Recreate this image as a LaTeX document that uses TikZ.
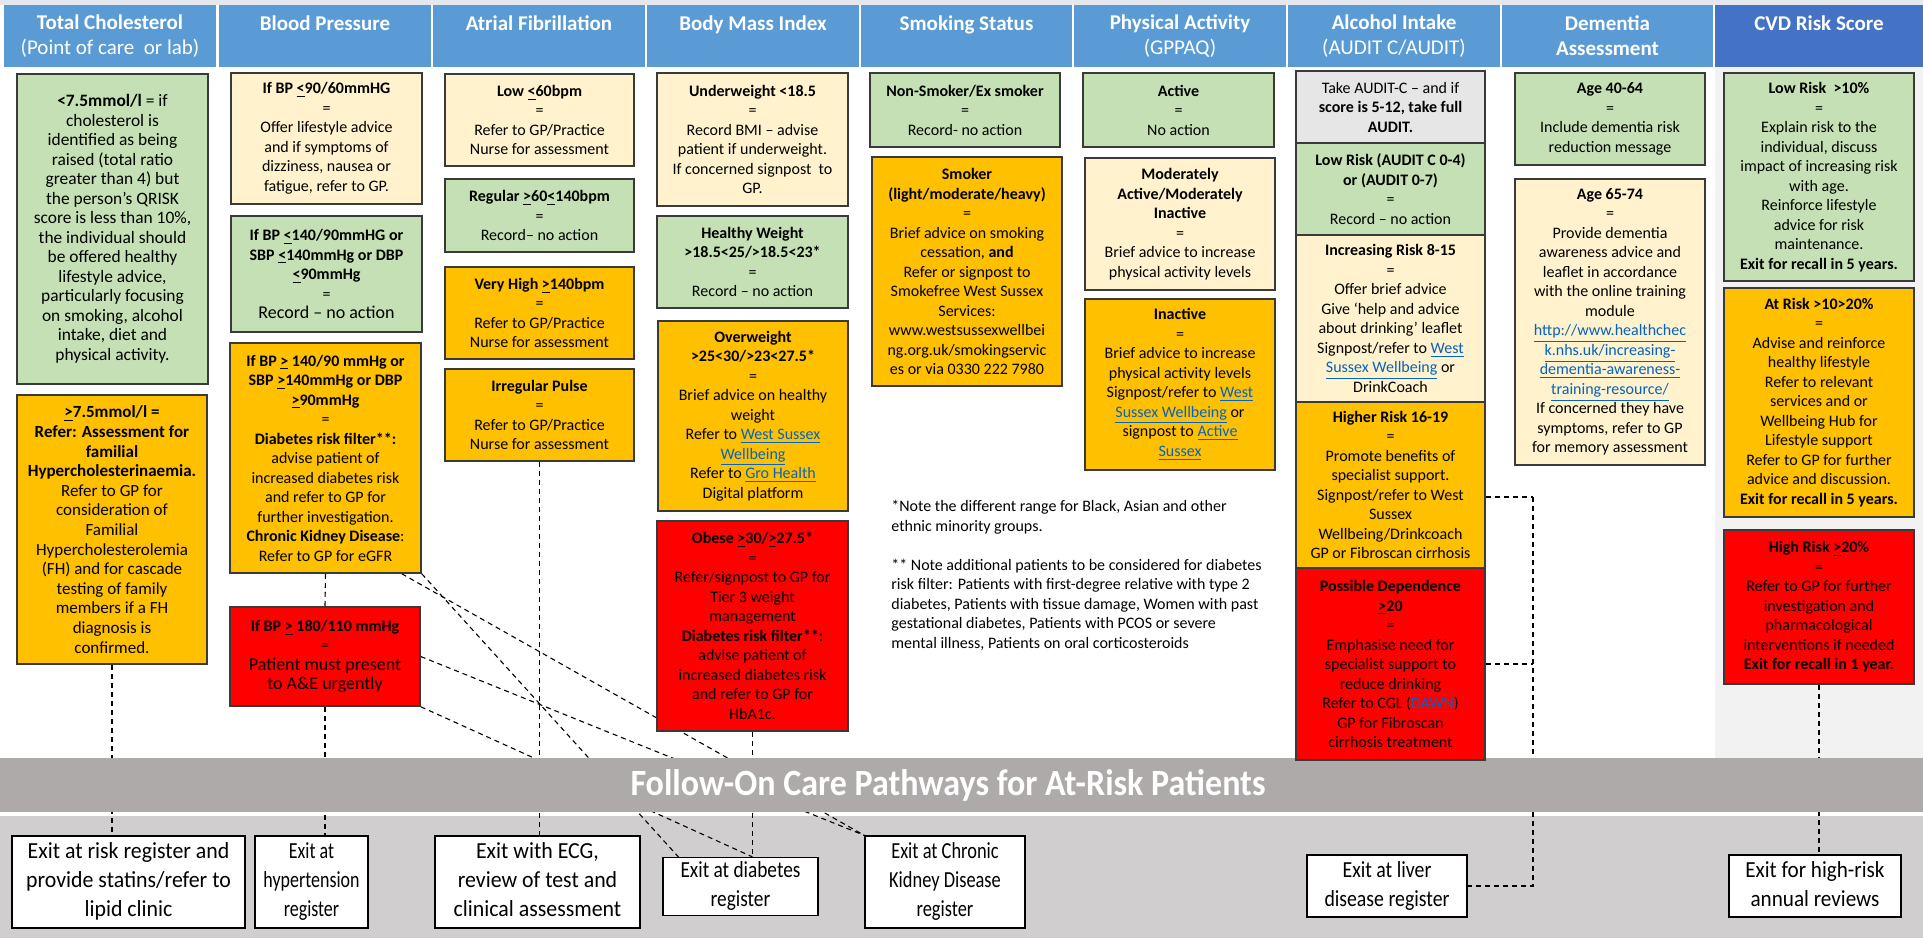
\documentclass[tikz,border=0pt]{standalone}
\usepackage{fontspec}
\setmainfont{Carlito}
\usepackage{graphicx}
\definecolor{hdrblue}{HTML}{5B9BD5}
\definecolor{cvdblue}{HTML}{4472C4}
\definecolor{okgreen}{HTML}{C5E0B4}
\definecolor{cream}{HTML}{FFF2CC}
\definecolor{amber}{HTML}{FFC000}
\definecolor{alarm}{HTML}{FF0000}
\definecolor{auditgrey}{HTML}{E7E6E6}
\definecolor{bandgrey}{HTML}{AEAAAA}
\definecolor{footgrey}{HTML}{D0CECE}
\definecolor{colgrey}{HTML}{F2F2F2}
\definecolor{topstrip}{HTML}{E3E8EF}
\definecolor{linkblue}{HTML}{0563C1}
\definecolor{boxline}{HTML}{3A3A3A}
\newcommand{\lnk}[1]{\textcolor{linkblue}{\underline{#1}}}
\newcommand{\lequ}{\underline{<}}
\newcommand{\gequ}{\underline{>}}
\newcommand{\squeeze}[2]{\scalebox{#1}[1]{\begin{tabular}{@{}c@{}}#2\end{tabular}}}
% box from corner (x1,y1) to corner (x2,y2), in pixels of the page
\newcommand{\cell}[7]{\node[#6,minimum width={(#4-#2)*0.5pt},minimum height={(#5-#3)*0.5pt}] (#1) at ({(#2+#4)/2},{(#3+#5)/2}) {#7};}
\pgfdeclarelayer{bg}
\pgfdeclarelayer{wires}
\pgfdeclarelayer{band}
\pgfsetlayers{bg,wires,band,main}
\tikzset{
  hdr/.style={fill=hdrblue,inner sep=0pt,text=white,align=center,font=\fontsize{10.5}{12.5}\selectfont},
  box/.style={draw=boxline,line width=0.75pt,inner sep=0pt,align=center,font=\fontsize{8}{9.75}\selectfont},
  okbox/.style={box,fill=okgreen},
  creambox/.style={box,fill=cream},
  amberbox/.style={box,fill=amber},
  redbox/.style={box,fill=alarm},
  auditbox/.style={box,fill=auditgrey},
  exitbox/.style={draw=black,line width=0.6pt,fill=white,inner sep=0pt,align=center,font=\fontsize{11.5}{14.5}\selectfont},
  wire/.style={black,line width=0.55pt,dash pattern=on 2.5pt off 2pt}
}
\begin{document}
\begin{tikzpicture}[x=0.5pt,y=-0.5pt]
\useasboundingbox (0,0) rectangle (1923,938);
\begin{pgfonlayer}{bg}
\fill[white] (0,0) rectangle (1923,938);
\fill[topstrip] (0,0) rectangle (1923,5);
\fill[colgrey] (1715,67) rectangle (1923,758);
\fill[footgrey] (0,816) rectangle (1923,938);
\end{pgfonlayer}
% column headers
\cell{hTC}{4}{5}{216}{67}{hdr}{\textbf{Total Cholesterol}\\(Point of care\ \ or lab)}
\cell{hBP}{219}{5}{431}{67}{hdr}{\textbf{Blood Pressure}\\\mbox{}}
\cell{hAF}{433}{5}{645}{67}{hdr}{\textbf{Atrial Fibrillation}\\\mbox{}}
\cell{hBMI}{647}{5}{859}{67}{hdr}{\textbf{Body Mass Index}\\\mbox{}}
\cell{hSM}{861}{5}{1072}{67}{hdr}{\textbf{Smoking Status}\\\mbox{}}
\cell{hPA}{1074}{5}{1286}{67}{hdr}{\textbf{Physical Activity}\\(GPPAQ)}
\cell{hAL}{1288}{5}{1500}{67}{hdr}{\textbf{Alcohol Intake}\\(AUDIT C/AUDIT)}
\cell{hDM}{1502}{5}{1713}{67}{hdr}{\textbf{Dementia}\\\textbf{Assessment}}
\cell{hCV}{1715}{5}{1923}{67}{hdr,fill=cvdblue}{\textbf{CVD Risk Score}\\\mbox{}}
% total cholesterol
\cell{tcLow}{17}{74}{208}{384}{okbox,font=\fontsize{8.7}{9.75}\selectfont}{\textbf{<7.5mmol/l} = if\\cholesterol is\\identified as being\\raised (total ratio\\greater than 4) but\\the person's QRISK\\score is less than 10\%,\\the individual should\\be offered healthy\\lifestyle advice,\\particularly focusing\\on smoking, alcohol\\intake, diet and\\physical activity.}
\cell{tcHigh}{17}{395}{207}{664}{amberbox,font=\fontsize{8.5}{9.8}\selectfont}{\textbf{\gequ7.5mmol/l =}\\\textbf{Refer: Assessment for}\\\textbf{familial}\\\textbf{Hypercholesterinaemia.}\\Refer to GP for\\consideration of\\Familial\\Hypercholesterolemia\\(FH) and for cascade\\testing of family\\members if a FH\\diagnosis is\\confirmed.}
% blood pressure
\cell{bpLow}{231}{73}{422}{204}{creambox}{\textbf{If BP \lequ90/60mmHG}\\=\\Offer lifestyle advice\\and if symptoms of\\dizziness, nausea or\\fatigue, refer to GP.}
\cell{bpOk}{231}{216}{422}{332}{okbox}{\textbf{If BP \lequ140/90mmHG or}\\\textbf{SBP \lequ140mmHg or DBP}\\\textbf{\lequ90mmHg}\\=\\{\fontsize{9}{9.75}\selectfont Record -- no action}}
\cell{bpHigh}{230}{343}{421}{573}{amberbox}{\textbf{If BP \gequ\ 140/90 mmHg or}\\\textbf{SBP \gequ140mmHg or DBP}\\\textbf{\gequ90mmHg}\\=\\\textbf{Diabetes risk filter**:}\\advise patient of\\increased diabetes risk\\and refer to GP for\\further investigation.\\\textbf{Chronic Kidney Disease}:\\Refer to GP for eGFR}
\cell{bpCrit}{230}{607}{420}{706}{redbox}{\textbf{If BP \gequ\ 180/110 mmHg}\\=\\{\fontsize{9}{10.5}\selectfont Patient must present}\\{\fontsize{9}{10.5}\selectfont to A\&E urgently}}
% atrial fibrillation
\cell{afLow}{445}{74}{634}{166}{creambox}{\textbf{Low \lequ60bpm}\\=\\Refer to GP/Practice\\Nurse for assessment}
\cell{afReg}{445}{179}{634}{252}{okbox}{\textbf{Regular \gequ60\lequ140bpm}\\=\\Record-- no action}
\cell{afVHigh}{445}{267}{634}{359}{amberbox}{\textbf{Very High \gequ140bpm}\\=\\Refer to GP/Practice\\Nurse for assessment}
\cell{afIrr}{445}{369}{634}{461}{amberbox}{\textbf{Irregular Pulse}\\=\\Refer to GP/Practice\\Nurse for assessment}
% body mass index
\cell{bmiUnder}{657}{73}{848}{206}{creambox}{\textbf{Underweight <18.5}\\=\\Record BMI -- advise\\patient if underweight.\\If concerned signpost\ \ to\\GP.}
\cell{bmiOk}{657}{216}{848}{308}{okbox}{\textbf{Healthy Weight}\\\textbf{>18.5<25/>18.5<23*}\\=\\Record -- no action}
\cell{bmiOver}{658}{321}{848}{511}{amberbox}{\textbf{Overweight}\\\textbf{>25<30/>23<27.5*}\\=\\Brief advice on healthy\\weight\\Refer to \lnk{West Sussex}\\\lnk{Wellbeing}\\Refer to \lnk{Gro Health}\\Digital platform}
\cell{bmiObese}{657}{521}{848}{731}{redbox}{\textbf{Obese \gequ30/\gequ27.5*}\\=\\Refer/signpost to GP for\\Tier 3 weight\\management\\\textbf{Diabetes risk filter**:}\\advise patient of\\increased diabetes risk\\and refer to GP for\\HbA1c.}
% smoking
\cell{smNon}{870}{73}{1060}{147}{okbox}{\textbf{Non-Smoker/Ex smoker}\\=\\Record- no action}
\cell{smYes}{872}{157}{1062}{386}{amberbox}{\textbf{Smoker}\\\textbf{(light/moderate/heavy)}\\=\\Brief advice on smoking\\cessation, \textbf{and}\\Refer or signpost to\\Smokefree West Sussex\\Services:\\www.westsussexwellbei\\ng.org.uk/smokingservic\\es or via 0330 222 7980}
% physical activity
\cell{paAct}{1083}{73}{1274}{147}{okbox}{\textbf{Active}\\=\\No action}
\cell{paMod}{1085}{158}{1275}{290}{creambox}{\textbf{Moderately}\\\textbf{Active/Moderately}\\\textbf{Inactive}\\=\\Brief advice to increase\\physical activity levels}
\cell{paIn}{1085}{299}{1275}{470}{amberbox}{\textbf{Inactive}\\=\\Brief advice to increase\\physical activity levels\\Signpost/refer to \lnk{West}\\\lnk{Sussex Wellbeing} or\\signpost to \lnk{Active}\\\lnk{Sussex}}
% alcohol
\cell{alAudit}{1296}{71}{1485}{143}{auditbox}{Take AUDIT-C -- and if\\\textbf{score is 5-12, take full}\\\textbf{AUDIT.}}
\cell{alLow}{1296}{143}{1485}{235}{okbox}{\textbf{Low Risk (AUDIT C 0-4)}\\\textbf{or (AUDIT 0-7)}\\=\\Record -- no action}
\cell{alInc}{1296}{235}{1485}{402}{creambox}{\textbf{Increasing Risk 8-15}\\=\\Offer brief advice\\Give ‘help and advice\\about drinking’ leaflet\\Signpost/refer to \lnk{West}\\\lnk{Sussex Wellbeing} or\\DrinkCoach}
\cell{alHigh}{1296}{402}{1485}{568}{amberbox}{\textbf{Higher Risk 16-19}\\=\\Promote benefits of\\specialist support.\\Signpost/refer to West\\Sussex\\Wellbeing/Drinkcoach\\GP or Fibroscan cirrhosis}
\cell{alDep}{1296}{568}{1485}{760}{redbox}{\textbf{Possible Dependence}\\\textbf{\gequ20}\\=\\Emphasise need for\\specialist support to\\reduce drinking\\Refer to CGL (\lnk{DAWN})\\GP for Fibroscan\\cirrhosis treatment}
% dementia
\cell{dmMid}{1515}{73}{1705}{165}{okbox}{\textbf{Age 40-64}\\=\\Include dementia risk\\reduction message}
\cell{dmOld}{1515}{179}{1705}{465}{creambox}{\textbf{Age 65-74}\\=\\Provide dementia\\awareness advice and\\leaflet in accordance\\with the online training\\module\\\lnk{http://www.healthchec}\\\lnk{k.nhs.uk/increasing-}\\\lnk{dementia-awareness-}\\\lnk{training-resource/}\\If concerned they have\\symptoms, refer to GP\\for memory assessment}
% cvd risk score
\cell{cvLow}{1724}{73}{1914}{281}{okbox}{\textbf{Low Risk\ \ >10\%}\\=\\Explain risk to the\\individual, discuss\\impact of increasing risk\\with age.\\Reinforce lifestyle\\advice for risk\\maintenance.\\\textbf{Exit for recall in 5 years.}}
\cell{cvAt}{1724}{288}{1914}{517}{amberbox}{\textbf{At Risk >10>20\%}\\=\\Advise and reinforce\\healthy lifestyle\\Refer to relevant\\services and or\\Wellbeing Hub for\\Lifestyle support\\Refer to GP for further\\advice and discussion.\\\textbf{Exit for recall in 5 years.}}
\cell{cvHigh}{1724}{530}{1914}{684}{redbox}{\textbf{High Risk \gequ20\%}\\=\\Refer to GP for further\\investigation and\\pharmacological\\interventions if needed\\\textbf{Exit for recall in 1 year.}}
% footnotes
\node[anchor=north west,align=left,inner sep=0pt,font=\fontsize{8}{9.75}\selectfont] (notes) at (891,500) {*Note the different range for Black, Asian and other\\ethnic minority groups.\\[9.75pt]** Note additional patients to be considered for diabetes\\risk filter: Patients with first-degree relative with type 2\\diabetes, Patients with tissue damage, Women with past\\gestational diabetes, Patients with PCOS or severe\\mental illness, Patients on oral corticosteroids};
% exits
\cell{exLipid}{12}{836}{245}{928}{exitbox}{\squeeze{0.95}{Exit at risk register and\\provide statins/refer to\\lipid clinic}}
\cell{exHyp}{255}{836}{368}{928}{exitbox}{\squeeze{0.78}{Exit at\\hypertension\\register}}
\cell{exECG}{435}{836}{640}{928}{exitbox}{\squeeze{0.95}{Exit with ECG,\\review of test and\\clinical assessment}}
\cell{exDiab}{663}{858}{818}{915}{exitbox}{\squeeze{0.84}{Exit at diabetes\\register}}
\cell{exCKD}{865}{836}{1025}{928}{exitbox}{\squeeze{0.8}{Exit at Chronic\\Kidney Disease\\register}}
\cell{exLiver}{1307}{855}{1467}{917}{exitbox}{\squeeze{0.86}{Exit at liver\\disease register}}
\cell{exAnnual}{1729}{855}{1901}{917}{exitbox}{\squeeze{0.92}{Exit for high-risk\\annual reviews}}
% pathway band
\begin{pgfonlayer}{band}
\fill[bandgrey] (0,758) rectangle (1923,812);
\node[text=white,font=\fontsize{18.5}{20}\selectfont\bfseries] (bandTitle) at (948,785) {\scalebox{0.92}[1]{Follow-On Care Pathways for At-Risk Patients}};
\end{pgfonlayer}
% connectors
\coordinate (alBus) at (1533,497);
\begin{pgfonlayer}{wires}
\draw[wire] (tcHigh.south) -- (tcHigh.south |- exLipid.north);
\draw[wire] (bpHigh.south) -- (bpCrit.north);
\draw[wire] (bpCrit.south) -- (bpCrit.south |- exHyp.north);
\draw[wire] (afIrr.south) -- (afIrr.south |- exECG.north);
\draw[wire] (bmiObese.south) -- (bmiObese.south |- exDiab.north);
\draw[wire] (bpHigh.south east) -- ([xshift=8pt]exDiab.north west);
\draw[wire] ([xshift=-10pt]bpHigh.south east) -- (exCKD.north west);
\draw[wire] (bpCrit.east) -- (exCKD.north west);
\draw[wire] (bpCrit.south east) -- (bmiObese.south |- exDiab.north);
\draw[wire] (alHigh.east |- alBus) -- (alBus);
\draw[wire] (alDep.east) -- (alDep.east -| alBus);
\draw[wire] (alBus) -- (alBus |- exLiver.east) -- (exLiver.east);
\draw[wire] (cvHigh.south) -- (cvHigh.south |- exAnnual.north);
\end{pgfonlayer}
\end{tikzpicture}
\end{document}
